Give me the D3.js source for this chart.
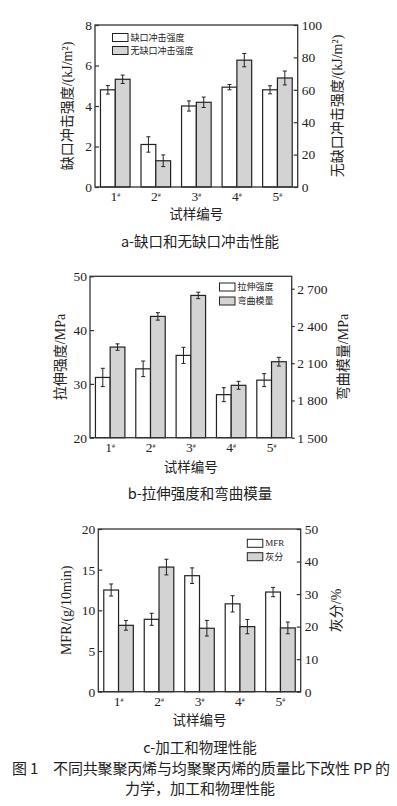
<!DOCTYPE html>
<html>
<head>
<meta charset="utf-8">
<script src="https://cdn.jsdelivr.net/npm/d3@7"></script>
<style>
  body { margin: 0; background: #fff; }
  svg text { font-family: 'Liberation Serif', 'Noto Sans CJK SC', serif; fill: #222; }
  svg text.cap { font-family: 'Noto Sans CJK SC', sans-serif; }
</style>
</head>
<body>
<svg id="fig" width="397" height="806"></svg>
<script>
const samples = ['1', '2', '3', '4', '5']

// a - notched / unnotched impact strength
const notchedImpact = [4.8, 2.1, 4.0, 4.93, 4.8]
const notchedErr = [0.21, 0.38, 0.25, 0.13, 0.2]
const unnotchedImpact = [66.5, 16.2, 52.3, 78.3, 67.3]
const unnotchedErr = [2.6, 3.6, 3.2, 4.1, 4.3]
const impactTicks = [0, 2, 4, 6, 8]
const unnotchedTicks = [0, 20, 40, 60, 80, 100]

// b - tensile strength / flexural modulus
const tensile = [31.2, 32.8, 35.3, 28.0, 30.7]
const tensileErr = [1.7, 1.45, 1.5, 1.3, 1.2]
const flexural = [2230, 2477, 2646, 1922, 2112]
const flexuralErr = [26, 30, 26, 32, 35]
const tensileTicks = [20, 30, 40, 50]
const flexuralTicks = [1500, 1800, 2100, 2400, 2700]

// c - MFR / ash
const mfr = [12.5, 8.9, 14.26, 10.8, 12.25]
const mfrErr = [0.74, 0.74, 0.96, 1.0, 0.57]
const ash = [20.4, 38.3, 19.5, 20.0, 19.6]
const ashErr = [1.5, 2.4, 2.4, 2.2, 1.8]
const mfrTicks = [0, 5, 10, 15, 20]
const ashTicks = [0, 10, 20, 30, 40, 50]

const svg = d3.select('#fig')
const GRAY = '#d3d3d3'
const INK = '#333'

function drawPanel (p) {
  const g = svg.append('g')

  const x = d3.scaleBand().domain(samples).range([p.left, p.right])
    .paddingInner(0.27).paddingOuter(0.135)
  const sub = d3.scaleBand().domain([0, 1]).range([0, x.bandwidth()])
  const yL = d3.scaleLinear().domain(p.leftDomain).range([p.bottom, p.top])
  const yR = d3.scaleLinear().domain(p.rightDomain).range([p.bottom, p.top])

  const series = [
    { values: p.leftValues, errors: p.leftErrors, y: yL, fill: '#fff' },
    { values: p.rightValues, errors: p.rightErrors, y: yR, fill: GRAY }
  ]

  series.forEach((s, k) => {
    const bars = g.append('g').selectAll('g.bar')
      .data(samples)
      .enter()
      .append('g')
      .classed('bar', true)

    bars.append('rect')
      .attr('x', d => x(d) + sub(k))
      .attr('width', sub.bandwidth())
      .attr('y', (d, i) => s.y(s.values[i]))
      .attr('height', (d, i) => p.bottom - s.y(s.values[i]))
      .style('fill', s.fill)
      .style('stroke', '#222')
      .style('stroke-width', 1.2)

    // error bars
    const cx = d => x(d) + sub(k) + sub.bandwidth() / 2
    bars.append('line')
      .attr('x1', cx).attr('x2', cx)
      .attr('y1', (d, i) => s.y(s.values[i] + s.errors[i]))
      .attr('y2', (d, i) => s.y(s.values[i] - s.errors[i]))
    ;[1, -1].forEach(sign => {
      bars.append('line')
        .attr('x1', d => cx(d) - 2).attr('x2', d => cx(d) + 2)
        .attr('y1', (d, i) => s.y(s.values[i] + sign * s.errors[i]))
        .attr('y2', (d, i) => s.y(s.values[i] + sign * s.errors[i]))
    })
    bars.selectAll('line').style('stroke', '#222').style('stroke-width', 1)
  })

  // =================== axes =================
  const xAxis = g.append('g')
    .attr('transform', `translate(0,${p.bottom})`)
    .call(d3.axisBottom(x).tickSize(0).tickPadding(4.5))
  xAxis.selectAll('.tick text').each(function (d) {
    const t = d3.select(this)
    t.text(d)
    t.append('tspan').attr('dy', '-0.6em').style('font-size', '6px').text('#')
  })

  const leftAxis = g.append('g')
    .attr('transform', `translate(${p.left},0)`)
    .call(d3.axisLeft(yL).tickValues(p.leftTicks).tickSizeInner(-4).tickSizeOuter(0).tickPadding(3))

  const rightAxis = g.append('g')
    .attr('transform', `translate(${p.right},0)`)
    .call(d3.axisRight(yR).tickValues(p.rightTicks)
      .tickSizeInner(p.rightTickOut ? 3 : -4).tickSizeOuter(0)
      .tickPadding(p.rightTickOut ? 2.5 : 4)
      .tickFormat(p.rightFormat || (d => d)))

  ;[xAxis, leftAxis, rightAxis].forEach(a => {
    a.attr('color', INK).attr('font-size', 13.5)
    a.select('.domain').remove()
    a.selectAll('line').style('stroke-width', 1.2)
  })

  g.append('rect')
    .attr('x', p.left).attr('y', p.top)
    .attr('width', p.right - p.left).attr('height', p.bottom - p.top)
    .style('fill', 'none').style('stroke', INK).style('stroke-width', 1.3)

  // =================== legend =================
  p.legend.labels.forEach((label, i) => {
    const ly = p.legend.y + i * p.legend.gap
    g.append('rect')
      .attr('x', p.legend.x).attr('y', ly)
      .attr('width', 15.5).attr('height', 8)
      .style('fill', series[i].fill).style('stroke', '#222').style('stroke-width', 1)
    g.append('text')
      .attr('x', p.legend.x + 18).attr('y', ly + 4)
      .attr('dominant-baseline', 'central')
      .style('font-size', '9px')
      .text(label)
  })

  // =================== titles =================
  ;[[p.leftTitleX, p.leftTitle], [p.rightTitleX, p.rightTitle]].forEach(([tx, label]) => {
    g.append('text')
      .attr('transform', `translate(${tx},${(p.top + p.bottom) / 2}) rotate(-90)`)
      .attr('text-anchor', 'middle')
      .attr('dominant-baseline', 'central')
      .style('font-size', '14px')
      .text(label)
  })

  g.append('text')
    .attr('x', (p.left + p.right) / 2).attr('y', p.xTitleY)
    .attr('text-anchor', 'middle')
    .style('font-size', '13.5px')
    .text('试样编号')

  g.append('text')
    .classed('cap', true)
    .attr('x', 200).attr('y', p.captionY)
    .attr('text-anchor', 'middle')
    .style('font-size', '14.5px')
    .text(p.caption)
}

drawPanel({
  left: 95, right: 297.7, top: 25, bottom: 187,
  leftDomain: [0, 8], rightDomain: [0, 100],
  leftValues: notchedImpact, leftErrors: notchedErr,
  rightValues: unnotchedImpact, rightErrors: unnotchedErr,
  leftTicks: impactTicks, rightTicks: unnotchedTicks,
  rightTickOut: false,
  legend: { x: 112.5, y: 33.5, gap: 13, labels: ['缺口冲击强度', '无缺口冲击强度'] },
  leftTitle: '缺口冲击强度/(kJ/m²)', leftTitleX: 67,
  rightTitle: '无缺口冲击强度/(kJ/m²)', rightTitleX: 337,
  xTitleY: 219, captionY: 247, caption: 'a-缺口和无缺口冲击性能'
})

drawPanel({
  left: 90, right: 291.7, top: 276.3, bottom: 437.7,
  leftDomain: [20, 50], rightDomain: [1500, 2800],
  leftValues: tensile, leftErrors: tensileErr,
  rightValues: flexural, rightErrors: flexuralErr,
  leftTicks: tensileTicks, rightTicks: flexuralTicks,
  rightTickOut: true,
  rightFormat: d => `${Math.floor(d / 1000)} ${String(d % 1000).padStart(3, '0')}`,
  legend: { x: 219.5, y: 283, gap: 14, labels: ['拉伸强度', '弯曲模量'] },
  leftTitle: '拉伸强度/MPa', leftTitleX: 60,
  rightTitle: '弯曲模量/MPa', rightTitleX: 343,
  xTitleY: 471.5, captionY: 498.5, caption: 'b-拉伸强度和弯曲模量'
})

drawPanel({
  left: 98.3, right: 300.7, top: 529, bottom: 691.7,
  leftDomain: [0, 20], rightDomain: [0, 50],
  leftValues: mfr, leftErrors: mfrErr,
  rightValues: ash, rightErrors: ashErr,
  leftTicks: mfrTicks, rightTicks: ashTicks,
  rightTickOut: false,
  legend: { x: 247.3, y: 539.3, gap: 13.4, labels: ['MFR', '灰分'] },
  leftTitle: 'MFR/(g/10min)', leftTitleX: 66.7,
  rightTitle: '灰分/%', rightTitleX: 336.7,
  xTitleY: 724.5, captionY: 752.5, caption: 'c-加工和物理性能'
})

// figure caption
svg.append('text')
  .classed('cap', true)
  .attr('x', 12).attr('y', 773.5)
  .attr('textLength', 378).attr('lengthAdjust', 'spacing')
  .style('font-size', '15px')
  .text('图 1　不同共聚聚丙烯与均聚聚丙烯的质量比下改性 PP 的')

svg.append('text')
  .classed('cap', true)
  .attr('x', 200).attr('y', 793.5)
  .attr('text-anchor', 'middle')
  .style('font-size', '15px')
  .text('力学，加工和物理性能')
</script>
</body>
</html>
